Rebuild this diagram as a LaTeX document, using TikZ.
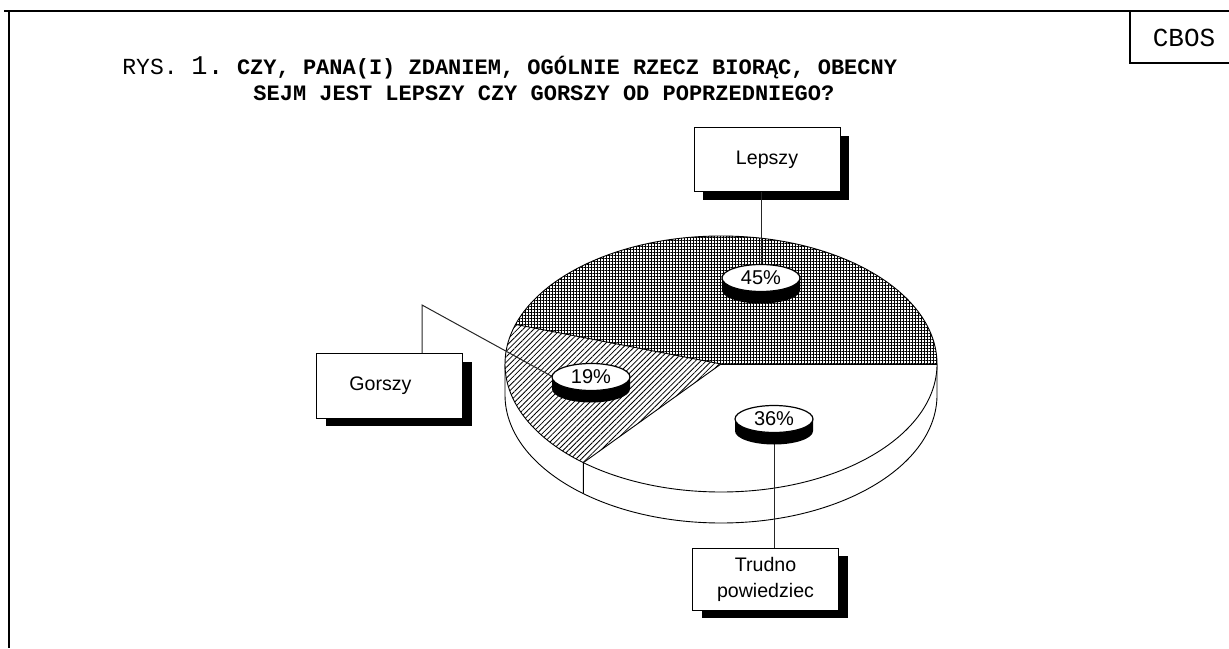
\documentclass[tikz,border=0pt]{standalone}
\usepackage{fontspec}
\setmainfont{Liberation Sans}
\newfontfamily\monofam{Liberation Mono}
\usetikzlibrary{patterns.meta,shadows,shapes.geometric,calc}
\begin{document}
\begin{tikzpicture}[x=0.5pt,y=0.5pt,
  lbl/.style={draw=black, line width=0.5pt, fill=white, minimum width=73pt, minimum height=32pt,
    inner sep=1pt, font=\fontsize{9.8}{13}\selectfont, align=center,
    drop shadow={shadow xshift=4.5pt, shadow yshift=-4pt, fill=black, opacity=1}},
  pct/.style={ellipse, draw=black, line width=0.6pt, fill=white, minimum width=39pt,
    minimum height=13.5pt, inner sep=0pt, font=\fontsize{10}{10}\selectfont},
  edge/.style={line width=0.45pt},
  leader/.style={line width=0.5pt, black!85},
  frame/.style={line width=0.7pt}
]
\useasboundingbox (0,0) rectangle (1229,648);

% frame
\draw[frame] (4,637) -- (1229,637);
\draw[frame] (9,637) -- (9,0);
\draw[frame] (1130,637) -- (1130,585) -- (1229,585);
\node[anchor=base, inner sep=0, font=\monofam\fontsize{13}{14}\selectfont] (cbos) at (1184,601) {CBOS};

% title
\node[anchor=base west, inner sep=0] (t1) at (122,573)
  {{\monofam\fontsize{11.5}{12}\selectfont RYS. }{\monofam\fontsize{13.5}{14}\selectfont 1.}{\monofam\fontsize{11}{12}\selectfont\ }{\monofam\bfseries\fontsize{11}{12}\selectfont CZY, PANA(I) ZDANIEM, OGÓLNIE RZECZ BIORĄC, OBECNY}};
\node[anchor=base west, inner sep=0] (t2) at (253,547)
  {\monofam\bfseries\fontsize{11}{12}\selectfont SEJM JEST LEPSZY CZY GORSZY OD POPRZEDNIEGO?};

% pie
\coordinate (C) at (721,284);
\draw[edge, fill=white] (C) ++(-216,0) -- ++(0,-31)
  arc[start angle=180, end angle=360, x radius=216, y radius=128] -- ++(0,31);
\fill[white] (C) ellipse[x radius=216, y radius=128];
\path[pattern={Hatch[distance=1.5pt, line width=0.45pt]}]
  (C) -- ++(216,0) arc[start angle=0, end angle=162, x radius=216, y radius=128] -- cycle;
\path[pattern={Lines[angle=45, distance=1.9pt, line width=0.4pt]}]
  (C) -- ++({216*cos(162)},{128*sin(162)})
  arc[start angle=162, end angle=230.4, x radius=216, y radius=128] -- cycle;
\draw[edge] (C) ellipse[x radius=216, y radius=128];
\draw[edge] (C) -- ++(216,0);
\draw[edge] (C) -- ++({216*cos(162)},{128*sin(162)});
\draw[edge] (C) -- ++({216*cos(230.4)},{128*sin(230.4)}) -- ++(0,-31);

% label boxes
\node[lbl] (lep) at (767,488) {Lepszy};
\node[lbl] (gor) at (389.5,262) {Gorszy\hspace*{9pt}};
\node[lbl, minimum height=31pt] (tru) at (765.5,69) {Trudno\\powiedziec};

% disk positions
\coordinate (c45) at (761,370);
\coordinate (c19) at (591,271);
\coordinate (c36) at (774,229);
\coordinate (gk) at (422,343);

% leaders
\draw[leader] (lep.south -| c45) -- (c45);
\draw[leader] (gor.north -| gk) -- (gk) -- ($(c19)+(-38,0)$);
\draw[leader] (c36) -- (c36 |- tru.north);

% disks
\foreach \c in {c45,c19,c36}{
  \fill[black] (\c) ++(-39,0) -- ++(0,-12)
    arc[start angle=180, end angle=360, x radius=39, y radius=13.5] -- ++(0,12) -- cycle;
}
\node[pct] (p45) at (c45) {45\%};
\node[pct] (p19) at (c19) {19\%};
\node[pct] (p36) at (c36) {36\%};
\end{tikzpicture}
\end{document}
